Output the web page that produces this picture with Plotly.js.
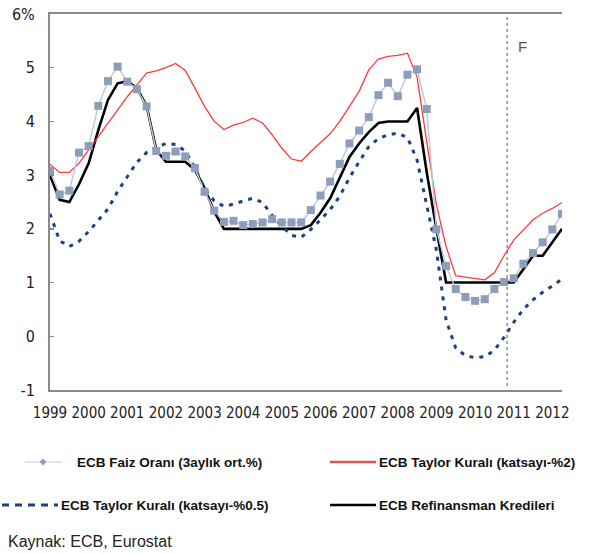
<!DOCTYPE html>
<html>
<head>
<meta charset="utf-8">
<script src="https://cdn.plot.ly/plotly-3.0.1.min.js"></script>
<style>
  html, body { margin: 0; padding: 0; background: #ffffff; }
  #chart { width: 600px; height: 554px; }
</style>
</head>
<body>
<div id="chart"></div>
<script>
// ---- Data (quarterly, 1999Q1 .. 2012Q2) ----
const yearLabels = ['1999','2000','2001','2002','2003','2004','2005','2006','2007','2008','2009','2010','2011','2012'];
const firstYear = 1999;

const faizOrani = [3.08,2.64,2.71,3.42,3.54,4.29,4.75,5.02,4.74,4.60,
                   4.28,3.45,3.36,3.44,3.35,3.13,2.69,2.34,2.13,2.15,
                   2.07,2.09,2.12,2.18,2.12,2.12,2.12,2.35,2.62,2.88,
                   3.21,3.59,3.83,4.08,4.49,4.72,4.47,4.87,4.97,4.23,
                   1.99,1.31,0.88,0.73,0.66,0.69,0.88,1.01,1.08,1.35,
                   1.55,1.75,1.99,2.28];

const taylor2 = [3.20,3.05,3.05,3.22,3.47,3.72,3.97,4.23,4.46,4.68,
                 4.90,4.94,5.00,5.08,4.95,4.62,4.28,4.00,3.85,3.93,
                 3.98,4.06,3.97,3.75,3.50,3.30,3.26,3.44,3.61,3.77,
                 4.00,4.28,4.56,4.96,5.16,5.21,5.23,5.27,4.83,3.62,
                 2.45,1.67,1.13,1.10,1.07,1.05,1.18,1.50,1.79,1.99,
                 2.17,2.29,2.38,2.49];

const taylor05 = [2.28,1.78,1.67,1.77,1.95,2.15,2.37,2.70,2.96,3.24,
                  3.42,3.52,3.59,3.57,3.45,3.14,2.75,2.52,2.42,2.46,
                  2.52,2.57,2.49,2.25,2.05,1.88,1.84,1.99,2.17,2.36,
                  2.61,2.95,3.25,3.53,3.68,3.75,3.78,3.70,3.28,2.45,
                  1.60,0.30,-0.22,-0.36,-0.40,-0.38,-0.26,-0.02,0.26,0.50,
                  0.68,0.82,0.94,1.06];

const refinansman = [3.00,2.54,2.50,2.83,3.22,3.84,4.40,4.71,4.75,4.62,
                     4.29,3.47,3.25,3.25,3.25,3.10,2.76,2.32,2.00,2.00,
                     2.00,2.00,2.00,2.00,2.00,2.00,2.00,2.07,2.30,2.57,
                     2.97,3.34,3.59,3.80,3.97,4.00,4.00,4.00,4.25,3.05,
                     2.00,1.00,1.00,1.00,1.00,1.00,1.00,1.00,1.00,1.25,
                     1.50,1.50,1.75,2.00];

const yTickVals = [-1,0,1,2,3,4,5,6];
const yTickText = ['-1','0','1','2','3','4','5','6%'];
const forecastStart = 2010.83;

const seriesNames = ['ECB Faiz Oranı (3aylık ort.%)','ECB Taylor Kuralı (katsayı-%2)',
                     'ECB Taylor Kuralı (katsayı-%0.5)','ECB Refinansman Kredileri'];

// quarter positions on the time axis
const qx = faizOrani.map((_, i) => firstYear + i / 4);

const FONT = '"Liberation Sans", Arial, sans-serif';
const TICKFONT = '"DejaVu Sans Condensed", "Liberation Sans", Arial, sans-serif';

// layout geometry (pixels)
const W = 600, H = 554;
const M = {l: 50, r: 38, t: 14, b: 164};
const PW = W - M.l - M.r, PH = H - M.t - M.b;
const px = v => (v - M.l) / PW;          // pixel x -> paper
const py = v => (H - M.b - v) / PH;      // pixel y -> paper

const traces = [
  { x: qx, y: refinansman, name: seriesNames[3], type: 'scatter', mode: 'lines',
    line: {color: '#000000', width: 2.6}, showlegend: false, hoverinfo: 'skip' },
  { x: qx, y: taylor2, name: seriesNames[1], type: 'scatter', mode: 'lines',
    line: {color: '#ff3a3a', width: 1.3}, showlegend: false, hoverinfo: 'skip' },
  { x: qx, y: taylor05, name: seriesNames[2], type: 'scatter', mode: 'lines',
    line: {color: '#1d3f86', width: 3, dash: '4px,6px'}, showlegend: false, hoverinfo: 'skip' },
  { x: qx, y: faizOrani, name: seriesNames[0], type: 'scatter', mode: 'lines+markers',
    line: {color: '#bfcadb', width: 1.5},
    marker: {symbol: 'square', size: 8, color: '#8c9eb9'}, showlegend: false, hoverinfo: 'skip' }
];

const legendRows = [
  {sym: 'faiz',  x0: 25,  x1: 62,  tx: 75,  y: 462, text: seriesNames[0]},
  {sym: 'red',   x0: 330, x1: 376, tx: 377, y: 462, text: seriesNames[1]},
  {sym: 'dash',  x0: 2,   x1: 58,  tx: 59,  y: 505, text: seriesNames[2]},
  {sym: 'black', x0: 330, x1: 376, tx: 377, y: 505, text: seriesNames[3]}
];

const shapes = [
  { type: 'line', xref: 'x', yref: 'paper', x0: forecastStart, x1: forecastStart,
    y0: py(386), y1: 1, line: {color: '#777777', width: 1.2, dash: 'dot'} }
];
const annotations = [
  { xref: 'paper', yref: 'paper', x: px(516), y: py(46), text: 'F', showarrow: false,
    xanchor: 'left', yanchor: 'middle', font: {family: FONT, size: 15, color: '#555555'} },
  { xref: 'paper', yref: 'paper', x: px(6), y: py(541), text: 'Kaynak: ECB, Eurostat', showarrow: false,
    xanchor: 'left', yanchor: 'middle', font: {family: FONT, size: 16, color: '#222222'} }
];

legendRows.forEach(r => {
  let style;
  if (r.sym === 'faiz') style = {color: '#e3e8f0', width: 2};
  else if (r.sym === 'red') style = {color: '#dd5656', width: 2.5};
  else if (r.sym === 'dash') style = {color: '#1f3f80', width: 3, dash: '7px,6px'};
  else style = {color: '#000000', width: 2.5};
  shapes.push({ type: 'line', xref: 'paper', yref: 'paper', x0: px(r.x0), x1: px(r.x1),
                y0: py(r.y), y1: py(r.y), line: style });
  if (r.sym === 'faiz') {
    shapes.push({ type: 'path', xref: 'paper', yref: 'paper', xsizemode: 'pixel', ysizemode: 'pixel',
                  xanchor: px(43), yanchor: py(r.y), path: 'M0,3.5 L3.5,0 L0,-3.5 L-3.5,0 Z',
                  fillcolor: '#8da0bf', line: {width: 0} });
  }
  annotations.push({ xref: 'paper', yref: 'paper', x: px(r.tx), y: py(r.y), text: '<b>' + r.text + '</b>',
                     showarrow: false, xanchor: 'left', yanchor: 'middle',
                     font: {family: FONT, size: 13.5, color: '#111111'} });
});

const layout = {
  width: W, height: H,
  margin: M,
  paper_bgcolor: '#ffffff', plot_bgcolor: '#ffffff',
  showlegend: false,
  xaxis: {
    range: [firstYear, firstYear + (faizOrani.length - 1) / 4],
    tickvals: yearLabels.map(Number), ticktext: yearLabels,
    tickangle: 0,
    showgrid: false, zeroline: false, ticks: '',
    showline: true, mirror: true, linecolor: '#8a8a8a', linewidth: 2,
    tickfont: {family: TICKFONT, size: 15, color: '#222222'},
    ticklabelstandoff: 8
  },
  yaxis: {
    range: [-1, 6], tickvals: yTickVals, ticktext: yTickText,
    showgrid: false, zeroline: false,
    ticks: 'inside', ticklen: 4, tickcolor: '#8a8a8a', tickwidth: 1.5,
    showline: true, linecolor: '#8a8a8a', linewidth: 2,
    tickfont: {family: TICKFONT, size: 16, color: '#222222'},
    ticklabelstandoff: 10
  },
  yaxis2: {
    range: [-1, 6], tickvals: yTickVals, ticktext: yTickText,
    overlaying: 'y', side: 'right', anchor: 'x',
    showgrid: false, zeroline: false,
    ticks: 'outside', ticklen: 5, tickcolor: '#8a8a8a', tickwidth: 1.5,
    showline: true, linecolor: '#8a8a8a', linewidth: 2,
    tickfont: {family: TICKFONT, size: 16, color: '#222222'}
  },
  shapes: shapes,
  annotations: annotations
};

Plotly.newPlot('chart', traces, layout, {displayModeBar: false, staticPlot: true});
</script>
</body>
</html>
